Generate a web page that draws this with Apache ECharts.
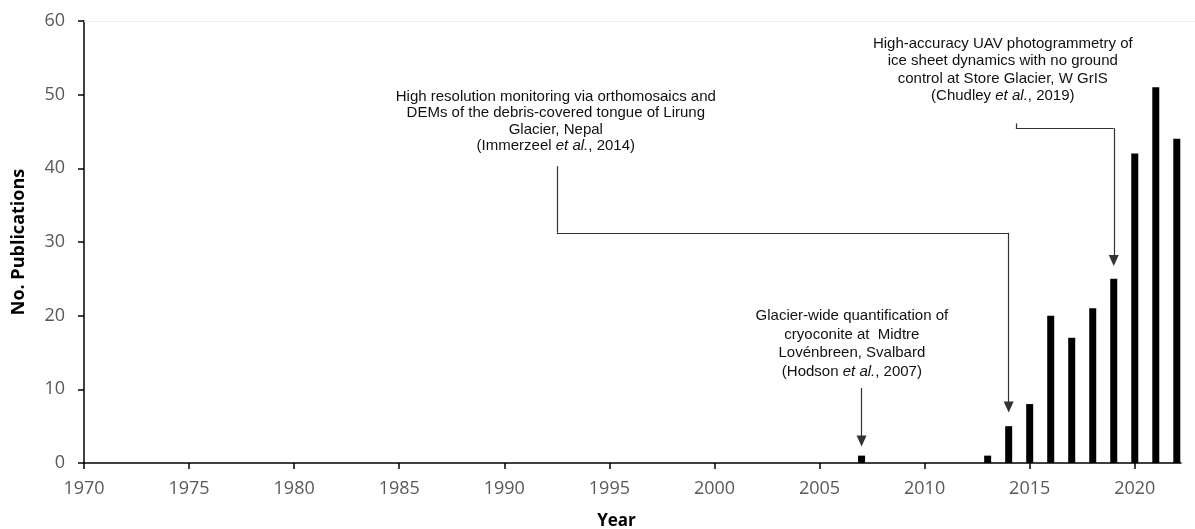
<!DOCTYPE html>
<html>
<head>
<meta charset="utf-8">
<script src="https://cdn.jsdelivr.net/npm/echarts@6/dist/echarts.min.js"></script>
<style>
  html, body { margin: 0; padding: 0; background: #fff; }
  #chart { width: 1195px; height: 529px; }
</style>
</head>
<body>
<div id="chart"></div>
<script>
// publications per year
const years = [2007, 2013, 2014, 2015, 2016, 2017, 2018, 2019, 2020, 2021, 2022];
const counts = [1, 1, 5, 8, 20, 17, 21, 25, 42, 51, 44];

const hodsonText = 'Glacier-wide quantification of\ncryoconite at  Midtre\nLovénbreen, Svalbard\n(Hodson {i|et al.}, 2007)';
const immerzeelText = 'High resolution monitoring via orthomosaics and\nDEMs of the debris-covered tongue of Lirung\nGlacier, Nepal\n(Immerzeel {i|et al.}, 2014)';
const chudleyText = 'High-accuracy UAV photogrammetry of\nice sheet dynamics with no ground\ncontrol at Store Glacier, W GrIS\n(Chudley {i|et al.}, 2019)';

const chart = echarts.init(document.getElementById('chart'));

const annFont = 'Liberation Sans, Arial, sans-serif';
const axisFont = 'Open Sans, sans-serif';

function note(text, coord, lh) {
  return {
    coord: coord,
    symbol: 'rect',
    symbolSize: 0,
    label: {
      show: true,
      position: 'inside',
      formatter: text,
      align: 'center',
      verticalAlign: 'middle',
      color: '#111',
      fontFamily: annFont,
      fontSize: 15,
      lineHeight: lh,
      rich: {
        i: { fontStyle: 'italic', fontFamily: annFont, fontSize: 15, lineHeight: lh, color: '#111' }
      }
    }
  };
}

// segment helper, arrow = true puts a triangle at the end
function seg(a, b, arrow) {
  return [
    { coord: a, symbol: 'none' },
    { coord: b, symbol: arrow ? 'triangle' : 'none' }
  ];
}

const option = {
  animation: false,
  grid: { left: 84, right: 14, top: 21, bottom: 66, containLabel: false, outerBoundsMode: 'none' },
  xAxis: {
    type: 'value',
    min: 1970,
    max: 2022.2,
    interval: 5,
    name: 'Year',
    nameLocation: 'middle',
    nameGap: 50,
    nameTextStyle: { fontFamily: axisFont, fontWeight: 'bold', fontSize: 17, color: '#000', padding: [0, 32, 0, 0] },
    axisLine: { lineStyle: { color: '#000', width: 1.5 } },
    axisTick: { show: true, length: 6, lineStyle: { color: '#000', width: 1.5 } },
    axisLabel: { fontFamily: axisFont, fontSize: 18, color: '#595959', margin: 17, showMaxLabel: false, formatter: v => String(v) },
    splitLine: { show: false }
  },
  yAxis: {
    type: 'value',
    min: 0,
    max: 60,
    interval: 10,
    name: 'No. Publications',
    nameLocation: 'middle',
    nameGap: 56,
    nameTextStyle: { fontFamily: axisFont, fontWeight: 'bold', fontSize: 18, color: '#000' },
    axisLine: { show: true, lineStyle: { color: '#000', width: 1.5 } },
    axisTick: { show: true, length: 6, lineStyle: { color: '#000', width: 1.5 } },
    axisLabel: { fontFamily: axisFont, fontSize: 18, color: '#595959', margin: 19 },
    splitLine: { show: false }
  },
  series: [{
    type: 'bar',
    barWidth: 7,
    itemStyle: { color: '#000' },
    data: years.map((y, i) => [y, counts[i]]),
    markLine: {
      silent: true,
      symbol: ['none', 'none'],
      symbolSize: [10, 11],
      label: { show: false },
      lineStyle: { color: '#333', width: 1.2, type: 'solid' },
      data: [
        seg([2007, 10.2], [2007, 3.0], true),
        seg([1992.5, 40.3], [1992.5, 31.25], false),
        seg([1992.5, 31.25], [2014, 31.25], false),
        seg([2014, 31.25], [2014, 7.6], true),
        seg([2014.34, 46.1], [2014.34, 45.45], false),
        seg([2014.34, 45.45], [2019, 45.45], false),
        seg([2019, 45.45], [2019, 27.5], true),
        [{ yAxis: 60, x: 84, symbol: 'none', lineStyle: { color: '#ececec', width: 1 } }, { yAxis: 60, x: 1195, symbol: 'none' }]
      ]
    },
    markPoint: {
      silent: true,
      data: [
        note(hodsonText, [2006.54, 16.15], 18.5),
        note(immerzeelText, [1992.45, 46.35], 16.5),
        note(chudleyText, [2013.72, 53.35], 17.5)
      ]
    }
  }]
};

chart.setOption(option);
</script>
</body>
</html>
